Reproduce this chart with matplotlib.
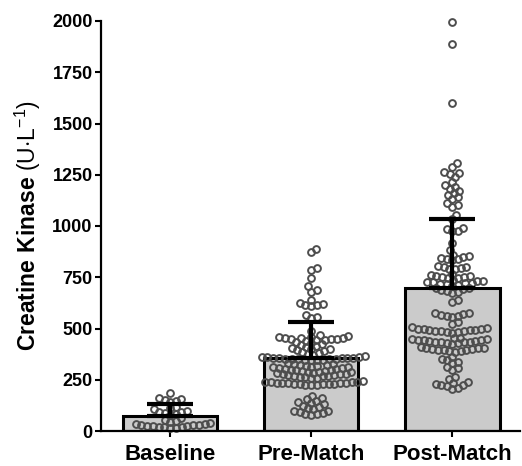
import numpy as np
import matplotlib
matplotlib.use("Agg")
import matplotlib.pyplot as plt

plt.rcParams['font.family'] = ['Liberation Sans', 'DejaVu Sans']
plt.rcParams['mathtext.fontset'] = 'custom'
plt.rcParams['mathtext.rm'] = 'Liberation Sans'
plt.rcParams['mathtext.bf'] = 'Liberation Sans:bold'

categories = ["Baseline", "Pre-Match", "Post-Match"]
means = [72, 356, 697]
sds = [58, 177, 338]

baseline = [15, 17, 18, 20, 20, 22, 24, 25, 27, 28, 30, 33, 36, 40, 45, 50, 55, 62,
            80, 85, 88, 92, 95, 100, 105, 110, 115,
            140, 145, 150, 155, 160, 185]

pre_match = [890, 875, 795, 785, 745, 705, 690, 680, 640, 625, 620, 615, 615, 610,
             565, 555, 550, 490,
             466, 462, 460, 457, 456, 454, 453, 451, 450, 448, 446, 444,
             440, 436, 431, 425, 421, 414, 410, 406, 401, 398, 394, 390, 386, 381, 376, 371,
             366, 363, 361, 360, 358, 357, 356, 355, 354, 353, 352, 351, 350, 349, 348, 347, 346, 345,
             331, 327, 325, 322, 320, 318, 317, 314, 312, 310, 308, 306, 304, 302, 300, 299,
             296, 294, 292, 290, 288, 287, 284, 282, 280, 278, 276, 274, 273, 270, 268, 266,
             264, 262, 260, 258,
             243, 240, 239, 238, 237, 236, 235, 234, 233, 232, 231, 230, 229, 228, 227, 226, 225, 224,
             170, 160,
             155, 148, 142, 136, 130, 124, 118, 112, 106, 100, 96, 92, 88, 85, 82, 80]

post_match = [1997, 1888, 1600,
              1307, 1290, 1262, 1258, 1255, 1240, 1215, 1200, 1190, 1180, 1170, 1160, 1150,
              1140, 1130, 1110, 1100, 1095, 1055, 1035,
              990, 985, 978, 975, 915, 885,
              860, 855, 850, 845, 840, 838, 832,
              805, 800, 798, 795, 792, 790,
              765, 760, 757, 755, 752, 750, 748, 745,
              735, 732, 730, 728, 725, 722, 720, 718, 715, 712,
              707, 700, 697, 693, 690, 685, 680, 673,
              640, 630,
              578, 575, 570, 565, 562, 560, 555, 530,
              520, 505, 502, 500, 498, 496, 495, 493, 492, 490, 488, 486, 485, 483, 480,
              455, 452, 450, 448, 446, 445, 443, 440, 438, 436, 435, 433, 432, 430, 428, 425,
              410, 407, 405, 403, 400, 398, 397, 395, 393, 390, 388, 385,
              360, 352, 345, 338, 330,
              312, 305, 298,
              265, 255,
              238, 233, 230, 225, 222, 218, 212, 205]

groups = [baseline, pre_match, post_match]

W, H = 522, 466
fig = plt.figure(figsize=(W / 100, H / 100), dpi=100)
ax = fig.add_axes([101 / W, 35 / H, (520 - 101) / W, 410 / H])

x = np.arange(len(categories))
ax.set_xlim(-0.49, 2.48)
ax.set_ylim(0, 2000)

ax.bar(x, means, width=0.67, color='#cbcbcb', edgecolor='black', linewidth=2.2, zorder=1)


def swarm_offsets(vals, ax, xc, dmin_px):
    order = np.argsort(vals)
    ypix = ax.transData.transform(np.column_stack([np.full(len(vals), xc), vals]))[:, 1]
    placed = []
    xs = np.zeros(len(vals))
    for i in order:
        yi = ypix[i]
        cands = [0.0]
        near = [(px, py) for px, py in placed if abs(py - yi) < dmin_px]
        for px, py in near:
            dx = np.sqrt(max(dmin_px ** 2 - (py - yi) ** 2, 0))
            cands += [px + dx + 1e-6, px - dx - 1e-6]
        cands = sorted(cands, key=abs)
        for c in cands:
            ok = all((c - px) ** 2 + (yi - py) ** 2 >= dmin_px ** 2 - 1e-6 for px, py in near)
            if ok:
                xs[i] = c
                break
        placed.append((xs[i], yi))
    px_per_unit = ax.transData.transform((1, 0))[0] - ax.transData.transform((0, 0))[0]
    return xc + xs / px_per_unit


for xi, vals in zip(x, groups):
    vals = np.array(vals, dtype=float)
    xs = swarm_offsets(vals, ax, xi, 5.8)
    ax.plot(xs, vals, 'o', markersize=4.9, markerfacecolor='none',
            markeredgecolor='#4d4d4d', markeredgewidth=1.4, zorder=2, clip_on=False)

ax.errorbar(x, means, yerr=[np.zeros(3), sds], fmt='none', ecolor='black',
            elinewidth=3, capsize=16.5, capthick=3, zorder=3)

ax.spines['top'].set_visible(False)
ax.spines['right'].set_visible(False)
ax.spines['left'].set_linewidth(1.6)
ax.spines['bottom'].set_linewidth(1.6)

ax.set_yticks([0, 250, 500, 750, 1000, 1250, 1500, 1750, 2000])
ax.set_xticks(x)
ax.set_xticklabels(categories, fontsize=16, fontweight='bold')
for lab in ax.get_yticklabels():
    lab.set_fontweight('bold')
ax.tick_params(axis='y', labelsize=13, length=4.5, width=1.5, pad=1.5)
ax.tick_params(axis='x', length=4.5, width=1.5, pad=5)

ax.set_ylabel(r'$\mathbf{Creatine\ Kinase}$ (U$\cdot$L$^{-1}$)', fontsize=16.5, labelpad=7)

fig.savefig('out.png', dpi=100)
